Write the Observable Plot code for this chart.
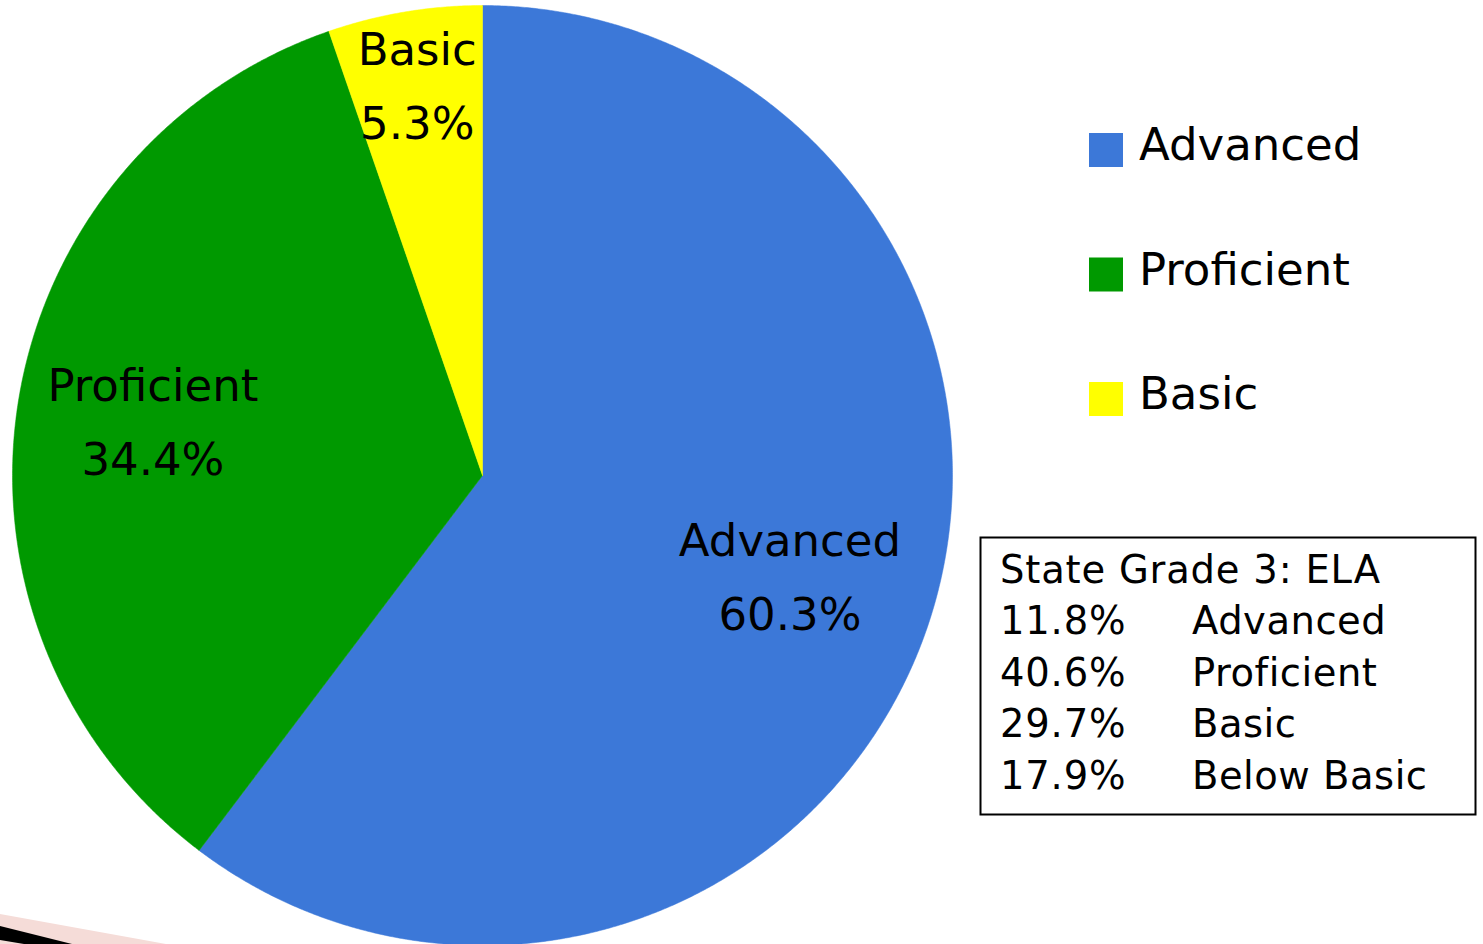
<!DOCTYPE html>
<html>
<head>
<meta charset="utf-8">
<script src="https://cdn.jsdelivr.net/npm/d3@7"></script>
<script src="https://cdn.jsdelivr.net/npm/@observablehq/plot@0.6"></script>
<style>
  html, body { margin: 0; padding: 0; background: #ffffff; }
  #wrap { position: relative; width: 1483px; height: 944px; overflow: hidden; }
  #wrap svg { position: absolute; left: 0; top: 0; }
  text { font-family: "DejaVu Sans", sans-serif; }
</style>
</head>
<body>
<div id="wrap"></div>
<script>
// ---- data ----
const categories = ["Advanced", "Proficient", "Basic"];
const values = [60.3, 34.4, 5.3];
const colors = ["#3C78D8", "#009900", "#FFFF00"];
const stateTitle = "State Grade 3: ELA";
const statePercents = ["11.8%", "40.6%", "29.7%", "17.9%"];
const stateLabels = ["Advanced", "Proficient", "Basic", "Below Basic"];

const FONT = "DejaVu Sans, sans-serif";

// ---- pie geometry from the values ----
const arcs = d3.pie().sort(null).value(d => d)(values);
const slicePoints = [];
const labelData = [];
const labelRadius = [0.69, 0.71, 0.838];
arcs.forEach((a, i) => {
  const cat = categories[i];
  slicePoints.push({cat, x: 0, y: 0});
  const n = Math.max(2, Math.ceil((a.endAngle - a.startAngle) / 0.005));
  for (let k = 0; k <= n; k++) {
    const t = a.startAngle + (a.endAngle - a.startAngle) * k / n;
    slicePoints.push({cat, x: Math.sin(t), y: Math.cos(t)});
  }
  slicePoints.push({cat, x: 0, y: 0});
  const m = (a.startAngle + a.endAngle) / 2;
  labelData.push({
    cat,
    x: labelRadius[i] * Math.sin(m),
    y: labelRadius[i] * Math.cos(m),
    text: cat + "\n" + values[i].toFixed(1) + "%"
  });
});

const chart = Plot.plot({
  width: 1483,
  height: 944,
  margin: 0,
  x: {domain: [-1, 1], range: [12, 952], axis: null},
  y: {domain: [-1, 1], range: [945, 5], axis: null},
  color: {domain: categories, range: colors},
  style: {background: "transparent", fontFamily: FONT},
  marks: [
    Plot.line(slicePoints, {x: "x", y: "y", z: "cat", fill: "cat", stroke: "cat", strokeWidth: 0.5, curve: "linear"}),
    Plot.text(labelData, {x: "x", y: "y", text: "text", fontSize: 45, lineHeight: 1.65, dy: -9, fill: "black", fontFamily: FONT})
  ]
});
document.getElementById("wrap").appendChild(chart);

// ---- legend and state box overlay ----
const NS = "http://www.w3.org/2000/svg";
const ov = document.createElementNS(NS, "svg");
ov.setAttribute("width", 1483);
ov.setAttribute("height", 944);
document.getElementById("wrap").appendChild(ov);
function el(tag, attrs, txt) {
  const e = document.createElementNS(NS, tag);
  for (const k in attrs) e.setAttribute(k, attrs[k]);
  if (txt != null) e.textContent = txt;
  ov.appendChild(e);
  return e;
}
// decoration in bottom-left corner
el("polygon", {points: "0,914 166,944 0,944", fill: "#F5DCD8"});
el("polygon", {points: "0,926 72,944 24,944 0,940", fill: "#000000"});

categories.forEach((c, i) => {
  el("rect", {x: 1089, y: 133 + i * 124.5, width: 34, height: 34, fill: colors[i]});
  el("text", {x: 1139, y: 160 + i * 124.5, "font-size": 45, fill: "black", "font-family": FONT}, c);
});

el("rect", {x: 980.5, y: 537.5, width: 495, height: 277, fill: "white", stroke: "black", "stroke-width": 2});
el("text", {x: 1000, y: 583, "font-size": 38.5, fill: "black", "font-family": FONT, "letter-spacing": 0.8}, stateTitle);
statePercents.forEach((p, i) => {
  el("text", {x: 1000, y: 634 + i * 51.5, "font-size": 38.5, fill: "black", "font-family": FONT, "letter-spacing": 0.8}, p);
  el("text", {x: 1192, y: 634 + i * 51.5, "font-size": 38.5, fill: "black", "font-family": FONT, "letter-spacing": 0.5}, stateLabels[i]);
});
</script>
</body>
</html>
